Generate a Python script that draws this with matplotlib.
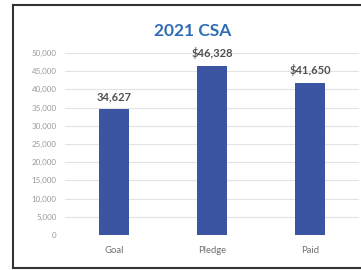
import matplotlib
matplotlib.use("Agg")
import matplotlib.pyplot as plt
from matplotlib.lines import Line2D

categories = ["Goal", "Pledge", "Paid"]
values = [34627, 46328, 41650]
value_labels = ["34,627", "$46,328", "$41,650"]
yticks = list(range(0, 50001, 5000))
ytick_labels = [f"{v:,}" for v in yticks]

plt.rcParams['font.family'] = ['Lato', 'DejaVu Sans']

fig = plt.figure(figsize=(3.61, 2.70), dpi=100)
fig.patch.set_facecolor("white")
ax = fig.add_axes([0.18, 0.13, 0.815, 0.674])

x = range(len(categories))
ax.bar(x, values, width=0.30, color="#3B55A3", zorder=3)
ax.set_xlim(-0.5, 2.5)
ax.set_ylim(0, 50000)
ax.set_yticks(yticks)
ax.set_yticklabels(ytick_labels, fontsize=5.8, color="#9a9a9a")
ax.set_xticks(list(x))
ax.set_xticklabels(categories, fontsize=6.8, color="#707070")
ax.tick_params(axis='both', length=0, pad=6)
ax.tick_params(axis='x', pad=8)
ax.grid(axis='y', color="#e3e3e3", linewidth=0.8, zorder=0)
for s in ax.spines.values():
    s.set_visible(False)

for xi, v, lab in zip(x, values, value_labels):
    ax.annotate(lab, (xi, v), xytext=(0, 5), textcoords="offset points",
                ha="center", va="bottom", fontsize=8, fontweight="bold", color="#505050")

fig.text(0.535, 0.885, "2021 CSA", ha="center", va="center", fontsize=12.5,
         fontweight="bold", color="#2E6DB4")

x0, y0, y1 = 12.5 / 361, 1 - 268 / 270, 1 - 4.5 / 270
for xs, ys in [((x0, 1), (y1, y1)), ((x0, x0), (y0, y1)), ((x0, 1), (y0, y0))]:
    fig.lines.append(Line2D(xs, ys, transform=fig.transFigure,
                            color="#333333", linewidth=1.5))

fig.savefig("out.png", dpi=100)
